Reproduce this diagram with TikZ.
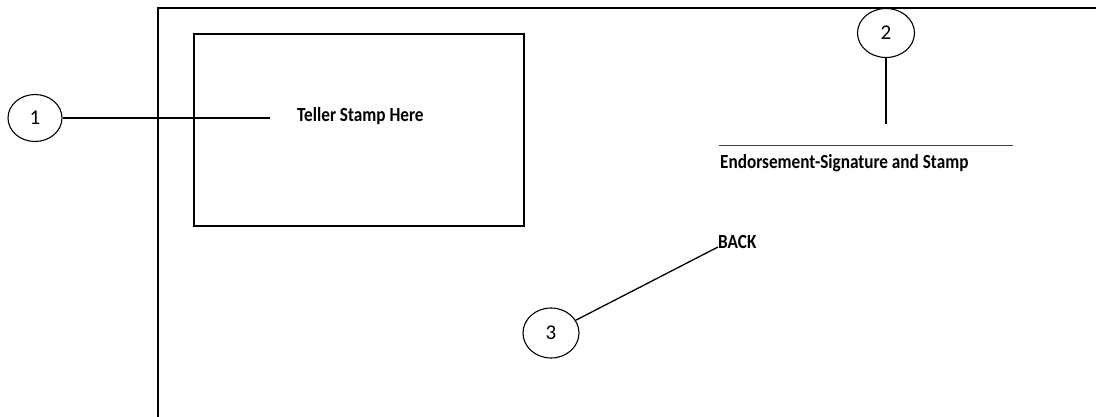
\documentclass[tikz,border=0pt]{standalone}
\usepackage{fontspec}
\setmainfont{Carlito}
\newfontfamily\labfont[FakeStretch=0.86]{Carlito}
\usetikzlibrary{shapes.geometric}
\begin{document}
\begin{tikzpicture}[x=1pt,y=-1pt,
  callout/.style={draw,line width=1.1pt,ellipse,minimum width=54pt,minimum height=47pt,inner sep=0pt,font=\fontsize{21}{21}\selectfont},
  lead/.style={line width=1.3pt},
  lab/.style={font=\labfont\bfseries\fontsize{20}{21}\selectfont,inner sep=0pt,anchor=west},
  frame/.style={line width=2pt}]
\useasboundingbox (0,0) rectangle (1096,417);
% outer frame
\coordinate (ftl) at (158,8);
\coordinate (fbl) at (158,417);
\coordinate (ftr) at (1096,8);
\draw[frame] (fbl) -- (ftl) -- (ftr);
% inner stamp box
\node[draw,line width=1.4pt,minimum width=330pt,minimum height=192pt,inner sep=0pt] (box) at (359,130) {};
% callout 1
\node[callout] (c1) at (35,118) {1};
\node[lab] (teller) at (297,116) {Teller Stamp Here};
\coordinate (t1) at (270,118);
\draw[lead] (c1) -- (t1);
% callout 2
\node[callout,minimum width=57pt,minimum height=49pt] (c2) at (886,33) {2};
\coordinate (t2) at (886,124);
\draw[lead] (c2) -- (t2);
\coordinate (sl) at (719,145);
\coordinate (sr) at (1013,145);
\draw[line width=0.8pt,black!75] (sl) -- (sr);
\node[lab] (endo) at (720,163) {Endorsement-Signature and Stamp};
% callout 3
\node[lab] (back) at (718,242) {BACK};
\node[callout,minimum width=56pt,minimum height=50pt] (c3) at (551,333) {3};
\coordinate (t3) at (718,247);
\draw[lead] (c3) -- (t3);
\end{tikzpicture}
\end{document}
